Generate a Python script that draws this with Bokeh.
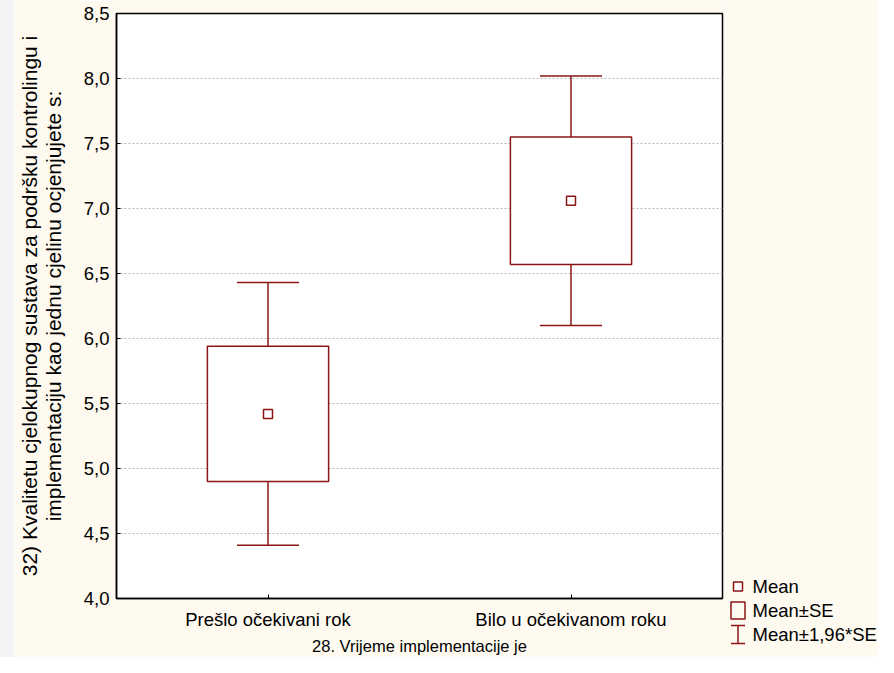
from bokeh.plotting import figure
from bokeh.layouts import row
from bokeh.models import (ColumnDataSource, FixedTicker, Whisker, TeeHead,
                          Range1d, Spacer)
from bokeh.core.properties import value
from bokeh.embed import file_html
from bokeh.resources import INLINE

# ---------------- data ----------------
categories = ["Prešlo očekivani rok", "Bilo u očekivanom roku"]
mean = [5.42, 7.06]
se_low = [4.90, 6.57]
se_high = [5.94, 7.55]
ci_low = [4.41, 6.10]
ci_high = [6.43, 8.02]
y_ticks = [4.0, 4.5, 5.0, 5.5, 6.0, 6.5, 7.0, 7.5, 8.0, 8.5]
y_tick_labels = ["4,0", "4,5", "5,0", "5,5", "6,0", "6,5", "7,0", "7,5", "8,0", "8,5"]
legend_labels = ["Mean", "Mean±SE", "Mean±1,96*SE"]
x_title = "28. Vrijeme implementacije je"
y_title = ("32) Kvalitetu cjelokupnog sustava za podršku kontrolingu i\n"
           "implementaciju kao jednu cjelinu ocjenjujete s:")

# ---------------- style ----------------
RED = "#8c1515"
CREAM = "#fffaf0"
FONT = "Liberation Sans"
FS = "18.5px"
LW = 1.5
H = 657
TOP = 13

xpos = list(range(1, len(categories) + 1))
src = ColumnDataSource(dict(x=xpos, mean=mean, se_low=se_low, se_high=se_high,
                            ci_low=ci_low, ci_high=ci_high))

p = figure(width=712, height=H, x_range=(0.5, 2.5), y_range=(4.0, 8.5),
           output_backend="svg", toolbar_location=None,
           min_border_left=99, min_border_right=4, min_border_top=TOP,
           min_border_bottom=57,
           background_fill_color="white", border_fill_color=CREAM,
           outline_line_color="black", outline_line_width=1.5)

# whiskers (drawn beneath the boxes)
wh = Whisker(source=src, base="x", lower="ci_low", upper="ci_high",
             dimension="height", line_color=RED, line_width=LW, level="underlay",
             upper_head=TeeHead(size=62, line_color=RED, line_width=LW),
             lower_head=TeeHead(size=62, line_color=RED, line_width=LW))
p.add_layout(wh)

p.vbar(x="x", width=0.4, bottom="se_low", top="se_high", source=src,
       fill_color="white", line_color=RED, line_width=LW)
p.scatter(x="x", y="mean", marker="square", size=9, source=src,
          fill_color="white", line_color=RED, line_width=LW)

# axes
p.xaxis.ticker = FixedTicker(ticks=xpos)
p.xaxis.major_label_overrides = {x: c for x, c in zip(xpos, categories)}
p.yaxis.ticker = FixedTicker(ticks=y_ticks)
p.yaxis.major_label_overrides = {t: l for t, l in zip(y_ticks, y_tick_labels)}
for ax in (p.xaxis[0], p.yaxis[0]):
    ax.major_tick_in = 4
    ax.major_tick_out = 0
    ax.minor_tick_line_color = None
    ax.major_tick_line_color = "black"
    ax.axis_line_color = "black"
    ax.axis_line_width = 1.5
    ax.major_label_text_font = FONT
    ax.major_label_text_font_size = FS
    ax.major_label_text_color = "black"
    ax.axis_label_text_font = FONT
    ax.axis_label_text_font_style = "normal"
    ax.axis_label_text_color = "black"
p.xaxis.axis_label = x_title
p.xaxis.axis_label_text_font_size = "16.5px"
p.yaxis.axis_label = y_title
p.yaxis.axis_label_text_font_size = "21px"
p.yaxis.axis_label_text_line_height = 1.05
p.xaxis.major_label_standoff = 10
p.yaxis.major_label_standoff = 7
p.xaxis.axis_label_standoff = 4
p.yaxis.axis_label_standoff = 16

p.xgrid.visible = False
p.ygrid.grid_line_color = "#b8b8b8"
p.ygrid.grid_line_dash = "2 2"
p.ygrid.grid_line_width = 1

# ---------------- legend panel (page-pixel coordinates) ----------------
LEG_LEFT, LEG_RIGHT = 726, 878
leg = figure(title=None, frame_width=LEG_RIGHT - LEG_LEFT, frame_height=H - TOP,
             x_range=Range1d(LEG_LEFT, LEG_RIGHT), y_range=Range1d(H, TOP),
             output_backend="svg", toolbar_location=None,
             x_axis_type=None, y_axis_type=None,
             min_border_left=0, min_border_right=0, min_border_top=TOP,
             min_border_bottom=0, outline_line_color=None,
             background_fill_color=CREAM, border_fill_color=CREAM)
leg.grid.visible = False

sym_x = 737.5
text_x = 752
row_y = [586, 610, 634]

# Mean marker
leg.scatter(x=[sym_x], y=[row_y[0]], marker="square", size=9,
            fill_color="white", line_color=RED, line_width=LW)
# Mean ± SE box
leg.quad(left=[sym_x - 7], right=[sym_x + 7], top=[row_y[1] - 8.5],
         bottom=[row_y[1] + 8.5], fill_color=None, line_color=RED, line_width=LW)
# Mean ± 1.96*SE whisker
leg.segment(x0=[sym_x, sym_x - 7, sym_x - 7], x1=[sym_x, sym_x + 7, sym_x + 7],
            y0=[row_y[2] - 9, row_y[2] - 9, row_y[2] + 9],
            y1=[row_y[2] + 9, row_y[2] - 9, row_y[2] + 9],
            line_color=RED, line_width=LW)
leg.text(x=[text_x] * len(legend_labels), y=row_y, text=legend_labels,
         text_baseline="middle", text_align="left", text_font=value(FONT),
         text_font_size=value(FS), text_color="black")

strip = Spacer(width=14, height=H, styles={"background-color": "#f4f4f6"})

layout = row(strip, p, leg, spacing=0)
open("out.html", "w").write(file_html(layout, INLINE))
